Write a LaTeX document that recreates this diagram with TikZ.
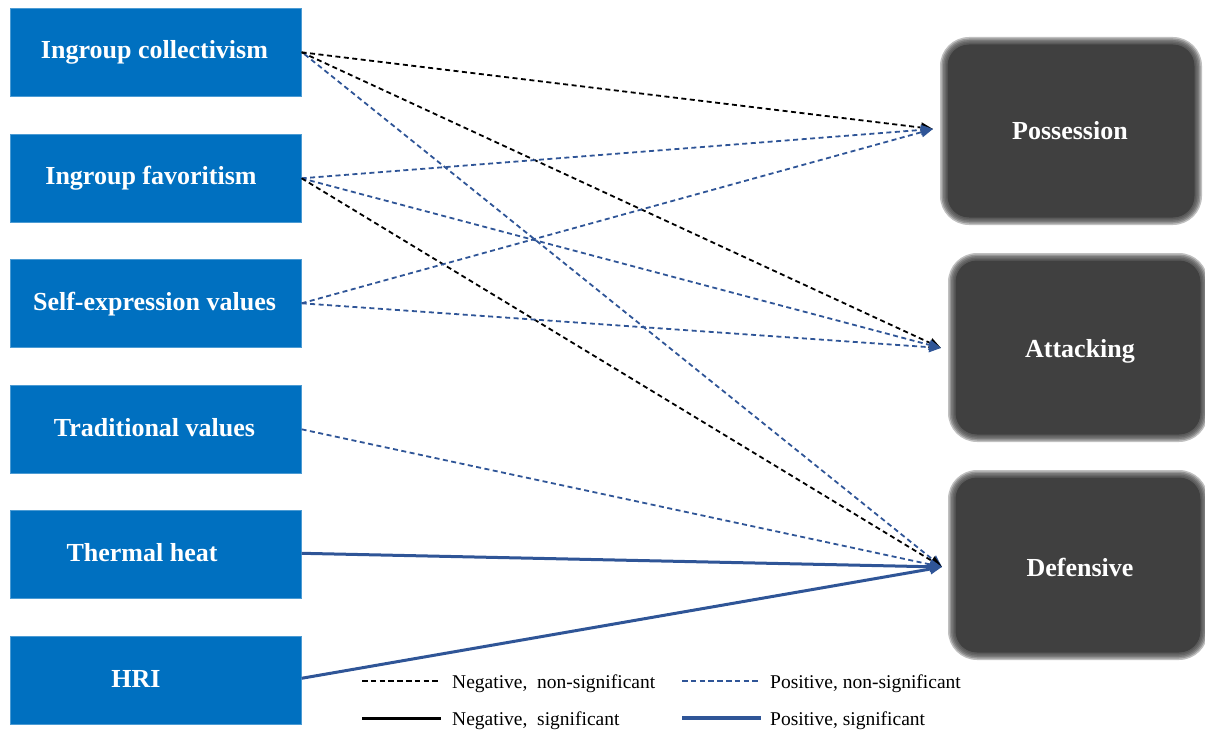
\documentclass[tikz,border=0pt]{standalone}
\usepackage{fontspec}
\setmainfont{Liberation Serif}
\usetikzlibrary{arrows.meta}
\definecolor{boxblue}{HTML}{0070C0}
\definecolor{darkbox}{HTML}{404040}
\definecolor{lineblue}{HTML}{2F5597}
\begin{document}
\begin{tikzpicture}[x=1pt,y=-1pt,
  lbox/.style={fill=boxblue, draw=boxblue!70!white, line width=0.6pt, minimum width=291pt, minimum height=88pt, inner sep=0pt, anchor=north west},
  ltext/.style={text=white, font=\bfseries\fontsize{26}{30}\selectfont, anchor=base, inner sep=0pt},
  rbox/.style={inner sep=0pt, anchor=north west},
  rtext/.style={text=white, font=\bfseries\fontsize{26}{30}\selectfont, anchor=base, inner sep=0pt},
  legtext/.style={font=\fontsize{19.5}{22}\selectfont, anchor=base west, inner sep=0pt},
  tip/.style={-{Triangle[length=12pt,width=10pt]}},
  negns/.style={tip, black, line width=1.8pt, dash pattern=on 5pt off 3.5pt},
  posns/.style={tip, lineblue, line width=1.8pt, dash pattern=on 5pt off 3.5pt},
  poss/.style={tip, lineblue, line width=3pt},
]
\useasboundingbox (0,0) rectangle (1205,733);

% left boxes
\node[lbox] (l1) at (10,8) {};
\node[lbox] (l2) at (10,134) {};
\node[lbox] (l3) at (10,259) {};
\node[lbox] (l4) at (10,385) {};
\node[lbox] (l5) at (10,510) {};
\node[lbox] (l6) at (10,636) {};
\node[ltext] (lt1) at (154.5,59) {Ingroup collectivism};
\node[ltext] (lt2) at (151,185) {Ingroup favoritism};
\node[ltext] (lt3) at (154.5,310) {Self-expression values};
\node[ltext] (lt4) at (154.5,436) {Traditional values};
\node[ltext] (lt5) at (142,561) {Thermal heat};
\node[ltext] (lt6) at (136,687) {HRI};

% right boxes with soft (blurred) edges
\foreach \xa/\ya/\xb/\yb in {945/42/1197/220, 953/258/1203/437, 953/475/1203/655}{
  \foreach \e in {5,3.5,2,0.5,-1}{
    \pgfmathsetmacro{\rr}{24+\e}
    \fill[darkbox, opacity=0.33, rounded corners=\rr pt] (\xa-\e,\ya-\e) rectangle (\xb+\e,\yb+\e);
  }
  \fill[darkbox, rounded corners=21.5pt] (\xa+2.5,\ya+2.5) rectangle (\xb-2.5,\yb-2.5);
}
\node[rbox, minimum width=252pt, minimum height=178pt] (r1) at (945,42) {};
\node[rbox, minimum width=250pt, minimum height=179pt] (r2) at (953,258) {};
\node[rbox, minimum width=250pt, minimum height=180pt] (r3) at (953,475) {};
\node[rtext] (rt1) at (1070,140) {Possession};
\node[rtext] (rt2) at (1080,357) {Attacking};
\node[rtext] (rt3) at (1080,576) {Defensive};

% arrow targets
\coordinate (t1) at (933,129);
\coordinate (t2) at (941,348);
\coordinate (t3) at (942,567);

% connectors
\draw[negns] (l1.east) -- (t1);
\draw[negns] (l1.east) -- (t2);
\draw[posns] ([shift={(3,2)}]l1.east) -- (t3);
\draw[posns] (l2.east) -- (t1);
\draw[posns] (l2.east) -- (t2);
\draw[negns] (l2.east) -- (t3);
\draw[posns] (l3.east) -- (t1);
\draw[posns] (l3.east) -- (t2);
\draw[posns] (l4.east) -- (t3);
\draw[poss] ([yshift=1pt]l5.east) -- (t3);
\draw[poss] ([yshift=2pt]l6.east) -- (t3);

% legend
\coordinate (ka1) at (362,681); \coordinate (kb1) at (441,681);
\coordinate (ka2) at (682,681); \coordinate (kb2) at (761,681);
\coordinate (ka3) at (362,718); \coordinate (kb3) at (441,718);
\coordinate (ka4) at (682,718); \coordinate (kb4) at (761,718);
\draw[black, line width=1.4pt, dash pattern=on 5.5pt off 3.3pt] (ka1) -- (kb1);
\draw[lineblue, line width=1.4pt, dash pattern=on 5.5pt off 3.3pt] (ka2) -- (kb2);
\draw[black, line width=3pt] (ka3) -- (kb3);
\draw[lineblue, line width=3.5pt] (ka4) -- (kb4);
\node[legtext] (k1) at (452,688) {Negative,~ non-significant};
\node[legtext] (k2) at (770,688) {Positive, non-significant};
\node[legtext] (k3) at (452,725) {Negative,~ significant};
\node[legtext] (k4) at (770,725) {Positive, significant};
\end{tikzpicture}
\end{document}
